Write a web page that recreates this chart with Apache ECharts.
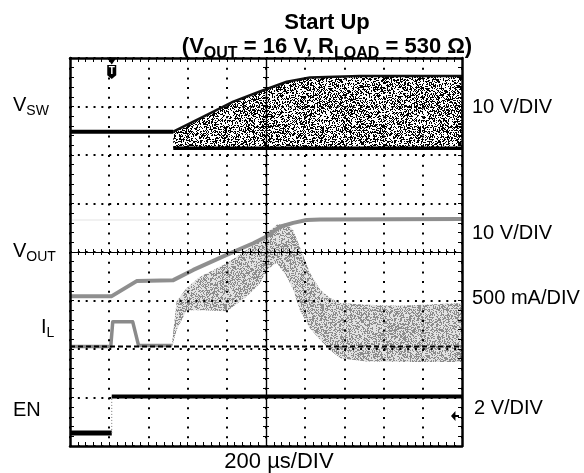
<!DOCTYPE html>
<html>
<head>
<meta charset="utf-8">
<script src="https://cdn.jsdelivr.net/npm/echarts@6.0.0/dist/echarts.min.js"></script>
<style>
html,body{margin:0;padding:0;background:#ffffff;}
#chart{width:584px;height:473px;}
</style>
</head>
<body>
<div id="chart"></div>
<script>
// Horizontal axis: time in µs, 0 = screen centre (200 µs/DIV, 10 divisions)
// Vertical axis: screen divisions, 0 = centre (8 divisions)
const timeRange = [-1000, 1000];
const timeStep = 200;
const divRange = [-4, 4];
const divStep = 1;

// V_SW trace (switch node)
const vswBaseline = [[-1000, 2.48], [-473, 2.48]];
const vswUpper = [[-473, 2.48], [-286, 2.86], [-167, 3.10], [-31, 3.31], [106, 3.51], [224, 3.60], [480, 3.63], [1000, 3.63]];
const vswLower = [[-473, 2.14], [1000, 2.14]];

// V_OUT trace
const vout = [[-1000, -0.91], [-787, -0.91], [-660, -0.60], [-473, -0.58], [-371, -0.37], [-201, -0.06], [-65, 0.18], [3, 0.32], [71, 0.52], [139, 0.60], [207, 0.66], [276, 0.67], [1000, 0.68]];
const voutGhost = [[-1000, 0.66], [0, 0.66]];

// I_L trace
const ilLine = [[-1000, -1.95], [-792, -1.95], [-782, -1.44], [-680, -1.44], [-650, -1.93], [-480, -1.93]];
const ilBandTime  = [-480, -456, -405, -337, -200, -99, -31, 3, 55, 106, 139, 173, 224, 276, 327, 378, 514, 684, 1000];
const ilBandUpper = [-1.90, -1.02, -0.74, -0.51, -0.23, 0.04, 0.25, 0.39, 0.56, 0.59, 0.45, 0.10, -0.43, -0.78, -0.95, -1.05, -1.09, -1.11, -1.05];
const ilBandLower = [-1.97, -1.61, -1.20, -1.20, -1.22, -0.92, -0.65, -0.37, -0.22, -0.51, -0.78, -1.20, -1.57, -1.81, -2.02, -2.19, -2.26, -2.27, -2.27];
const ilZero = [[-1000, -1.95], [1000, -1.95]];

// EN trace
const enLow = [[-1000, -3.73], [-787, -3.73]];
const enEdge = [[-787, -3.73], [-787, -2.98]];
const enHigh = [[-787, -2.98], [1000, -2.98]];

// markers
const triggerTime = -787;
const groundMarkLevel = -3.38;

const black = '#000000';
const font = '"Liberation Sans", Arial, Helvetica, sans-serif';

function stipple(color, density, base) {
  const c = document.createElement('canvas');
  c.width = 97; c.height = 89;
  const ctx = c.getContext('2d');
  if (base) { ctx.fillStyle = base; ctx.fillRect(0, 0, c.width, c.height); }
  ctx.fillStyle = color;
  let s = 987654321;
  for (let y = 0; y < c.height; y++) {
    for (let x = 0; x < c.width; x++) {
      s = (s * 1103515245 + 12345) & 0x7fffffff;
      if (((s >> 8) & 0xffff) / 65536 < density) ctx.fillRect(x, y, 1, 1);
    }
  }
  return c;
}

function xAxisDef(o) {
  return {
    type: 'value', min: timeRange[0], max: timeRange[1], interval: timeStep,
    position: o.position, z: 10, silent: true,
    axisLine: {show: true, onZero: !!o.onZero, onZeroAxisIndex: 0, lineStyle: {color: black, width: o.lineWidth}},
    axisTick: {show: true, inside: o.inside, length: o.tick, lineStyle: {color: black, width: 1}},
    minorTick: {show: true, splitNumber: 5, length: o.tick, lineStyle: {color: black, width: 1}},
    axisLabel: {show: false},
    splitLine: o.split ? {show: true, lineStyle: {color: black, width: 2, type: [2, 7.7]}} : {show: false},
    minorSplitLine: {show: false}
  };
}
function yAxisDef(o) {
  return {
    type: 'value', min: divRange[0], max: divRange[1], interval: divStep,
    position: o.position, z: 10, silent: true,
    axisLine: {show: true, onZero: !!o.onZero, onZeroAxisIndex: 0, lineStyle: {color: black, width: o.lineWidth}},
    axisTick: {show: true, inside: o.inside, length: o.tick, lineStyle: {color: black, width: 1}},
    minorTick: {show: true, splitNumber: 5, length: o.tick, lineStyle: {color: black, width: 1}},
    axisLabel: {show: false},
    splitLine: o.split ? {show: true, lineStyle: {color: black, width: 2, type: [2, 5.84]}} : {show: false},
    minorSplitLine: {show: false}
  };
}

function bandSeries(upper, lower, fill, z) {
  return {
    type: 'custom', z: z, silent: true, clip: true, animation: false,
    data: [[0, 0]],
    renderItem: function (params, api) {
      const pts = upper.map(function (p) { return api.coord(p); })
        .concat(lower.slice().reverse().map(function (p) { return api.coord(p); }));
      return {type: 'polygon', shape: {points: pts}, style: {fill: fill, stroke: null}};
    }
  };
}
function lineSeries(data, color, width, z, dash) {
  return {
    type: 'line', data: data, z: z, silent: true, symbol: 'none', animation: false,
    lineStyle: {color: color, width: width, type: dash || 'solid', cap: 'butt', join: 'round'}
  };
}

const ilUpperPts = ilBandTime.map(function (t, i) { return [t, ilBandUpper[i]]; });
const ilLowerPts = ilBandTime.map(function (t, i) { return [t, ilBandLower[i]]; });

const vswPattern = {type: 'pattern', image: stipple('#000000', 0.42, '#ffffff'), repeat: 'repeat'};
const ilPattern = {type: 'pattern', image: stipple('#8c8c8c', 0.45, '#e2e2e2'), repeat: 'repeat'};

function rich(parts, x, y, size, subSize, bold, align, lh, slh) {
  let txt = '';
  parts.forEach(function (p) { txt += '{' + p[0] + '|' + p[1] + '}'; });
  const w = bold ? 'bold' : 'normal';
  return {
    type: 'text', x: x, y: y, z: 100, silent: true,
    style: {
      text: txt, align: align, verticalAlign: 'middle',
      rich: {
        m: {fontFamily: font, fontSize: size, fontWeight: w, fill: black, color: black, lineHeight: lh, verticalAlign: 'middle'},
        s: {fontFamily: font, fontSize: subSize, fontWeight: w, fill: black, color: black, lineHeight: slh, verticalAlign: 'bottom'}
      }
    }
  };
}

const chart = echarts.init(document.getElementById('chart'), null, {renderer: 'canvas'});
chart.setOption({
  backgroundColor: '#ffffff',
  animation: false,
  grid: {left: 70, top: 58, width: 392, height: 388, outerBoundsMode: 'none', containLabel: false},
  xAxis: [
    xAxisDef({position: 'bottom', onZero: false, inside: true, tick: 4, lineWidth: 2.5, split: true}),
    xAxisDef({position: 'top', onZero: false, inside: true, tick: 4, lineWidth: 2.5}),
    xAxisDef({position: 'bottom', onZero: true, inside: true, tick: 3, lineWidth: 1.2}),
    xAxisDef({position: 'bottom', onZero: true, inside: false, tick: 3, lineWidth: 1.2})
  ],
  yAxis: [
    yAxisDef({position: 'left', onZero: false, inside: true, tick: 4, lineWidth: 2.5, split: true}),
    yAxisDef({position: 'right', onZero: false, inside: true, tick: 4, lineWidth: 2.5}),
    yAxisDef({position: 'left', onZero: true, inside: true, tick: 3, lineWidth: 1.2}),
    yAxisDef({position: 'left', onZero: true, inside: false, tick: 3, lineWidth: 1.2})
  ],
  series: [
    bandSeries(ilUpperPts, ilLowerPts, ilPattern, 2),
    lineSeries(ilLine, '#8a8a8a', 3.5, 3),
    lineSeries(voutGhost, '#f1f1f1', 2, 3),
    lineSeries(vout, '#8f8f8f', 4, 4),
    bandSeries(vswUpper, vswLower, vswPattern, 2),
    lineSeries(vswBaseline, '#000000', 4, 5),
    lineSeries(vswUpper, '#111111', 2.5, 5),
    lineSeries(vswLower, '#000000', 3.5, 5),
    lineSeries(ilZero, '#000000', 2, 6, [5, 3]),
    lineSeries(enLow, '#000000', 5, 5),
    lineSeries(enEdge, '#777777', 1, 5, [1, 2]),
    Object.assign(lineSeries(enHigh, '#000000', 4, 5), {
      markPoint: {
        silent: true, animation: false,
        itemStyle: {color: black},
        label: {show: false},
        data: [
          {coord: [triggerTime, divRange[1]], symbol: 'triangle', symbolSize: [10, 7], symbolRotate: 180, symbolOffset: [0, 3]},
          {coord: [triggerTime, divRange[1]], symbol: 'path://M0,0 L10,0 L10,11 L5,15 L0,11 Z', symbolSize: [9, 14], symbolOffset: [0, 14],
            label: {show: true, position: 'inside', formatter: 'T', color: '#ffffff', fontFamily: font, fontWeight: 'bold', fontSize: 10, offset: [0, -1]}},
          {coord: [timeRange[1], groundMarkLevel], symbol: 'path://M0,5 L5,0 L5,4 L9,4 L9,6 L5,6 L5,10 Z', symbolSize: [8, 10], symbolOffset: [-7, 0]}
        ]
      }
    })
  ],
  graphic: [
    rich([['m', 'Start Up']], 327, 23, 22, 16, true, 'center', 30, 14),
    rich([['m', '(V'], ['s', 'OUT'], ['m', ' = 16 V, R'], ['s', 'LOAD'], ['m', ' = 530 Ω)']], 327, 47, 22, 16, true, 'center', 30, 14),
    rich([['m', 'V'], ['s', 'SW']], 13, 105, 20, 14, false, 'left', 27, 14),
    rich([['m', 'V'], ['s', 'OUT']], 13, 251, 20, 14, false, 'left', 27, 14),
    rich([['m', 'I'], ['s', 'L']], 41, 327, 20, 14, false, 'left', 27, 14),
    rich([['m', 'EN']], 13, 410, 20, 14, false, 'left', 27, 14),
    rich([['m', '10 V/DIV']], 472, 107, 20, 14, false, 'left', 27, 14),
    rich([['m', '10 V/DIV']], 472, 233, 20, 14, false, 'left', 27, 14),
    rich([['m', '500 mA/DIV']], 472, 298, 20, 14, false, 'left', 27, 14),
    rich([['m', '2 V/DIV']], 474, 408, 20, 14, false, 'left', 27, 14),
    rich([['m', '200 µs/DIV']], 279, 462, 22, 14, false, 'center', 27, 14)
  ]
});
</script>
</body>
</html>
